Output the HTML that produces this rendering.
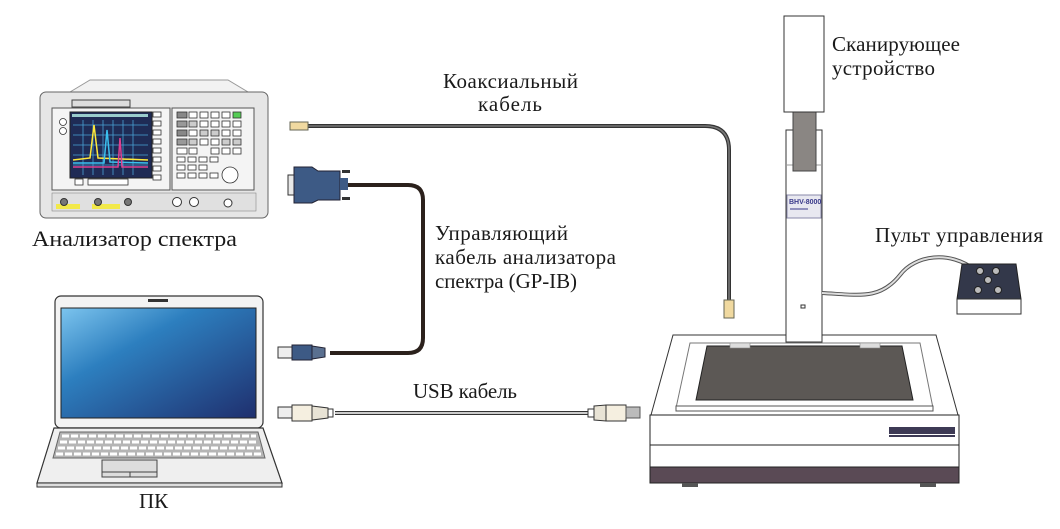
<!DOCTYPE html>
<html><head><meta charset="utf-8"><style>
html,body{margin:0;padding:0;background:#fff;}
svg text{font-family:"Liberation Serif",serif;font-size:21px;fill:#1a1a1a;}
</style></head><body>
<svg width="1060" height="524" viewBox="0 0 1060 524" xmlns="http://www.w3.org/2000/svg">
<defs>
<linearGradient id="scr" x1="0" y1="0" x2="1" y2="1">
<stop offset="0" stop-color="#7cc4ee"/><stop offset="0.35" stop-color="#2d7fbf"/><stop offset="1" stop-color="#1f2f6e"/>
</linearGradient>
</defs>

<!-- Spectrum analyzer -->
<path d="M70,92 L90,80 L228,80 L248,92 Z" fill="#f2f2f2" stroke="#999"/>
<rect x="40" y="92" width="228" height="126" rx="6" fill="#e6e6e6" stroke="#666"/>
<rect x="72" y="100" width="58" height="7" fill="#ddd" stroke="#444"/>
<rect x="52" y="108" width="118" height="82" fill="#f4f4f4" stroke="#555"/>
<rect x="172" y="108" width="82" height="82" fill="#f4f4f4" stroke="#555"/>
<rect x="70" y="112" width="82" height="66" fill="#1f2b55" stroke="#222"/>
<rect x="72" y="114" width="76" height="3" fill="#9cc"/>
<g stroke="#4aa3d6" stroke-width="0.8">
<line x1="73" y1="125" x2="148" y2="125"/><line x1="73" y1="135" x2="148" y2="135"/><line x1="73" y1="145" x2="148" y2="145"/><line x1="73" y1="155" x2="148" y2="155"/><line x1="73" y1="165" x2="148" y2="165"/>
<line x1="83" y1="120" x2="83" y2="175"/><line x1="93" y1="120" x2="93" y2="175"/><line x1="103" y1="120" x2="103" y2="175"/><line x1="113" y1="120" x2="113" y2="175"/><line x1="123" y1="120" x2="123" y2="175"/><line x1="133" y1="120" x2="133" y2="175"/>
</g>
<path d="M73,160 L90,158 L94,125 L98,158 L148,160" stroke="#ffe93b" fill="none" stroke-width="1.5"/>
<path d="M73,163 L104,163 L107,130 L110,162 L148,163" stroke="#3bc0ee" fill="none" stroke-width="1.5"/>
<path d="M73,167 L118,167 L120,138 L122,167 L148,167" stroke="#e04090" fill="none" stroke-width="1.5"/>
<g fill="#fff" stroke="#333" stroke-width="0.8">
<rect x="153" y="112" width="8" height="5"/><rect x="153" y="121" width="8" height="5"/><rect x="153" y="130" width="8" height="5"/><rect x="153" y="139" width="8" height="5"/><rect x="153" y="148" width="8" height="5"/><rect x="153" y="157" width="8" height="5"/><rect x="153" y="166" width="8" height="5"/><rect x="153" y="175" width="8" height="5"/>
<rect x="75" y="179" width="8" height="6"/><rect x="88" y="179" width="40" height="6"/>
<circle cx="63" cy="122" r="3.5"/><circle cx="63" cy="131" r="3.5"/>
</g>
<g stroke="#333" stroke-width="0.8">
<rect x="177" y="112" width="10" height="6" fill="#888"/><rect x="189" y="112" width="8" height="6" fill="#fff"/><rect x="200" y="112" width="8" height="6" fill="#fff"/><rect x="211" y="112" width="8" height="6" fill="#fff"/><rect x="222" y="112" width="8" height="6" fill="#fff"/><rect x="233" y="112" width="8" height="6" fill="#5c5"/>
<rect x="177" y="121" width="10" height="6" fill="#999"/><rect x="189" y="121" width="8" height="6" fill="#ccc"/><rect x="200" y="121" width="8" height="6" fill="#fff"/><rect x="211" y="121" width="8" height="6" fill="#fff"/><rect x="222" y="121" width="8" height="6" fill="#fff"/><rect x="233" y="121" width="8" height="6" fill="#fff"/>
<rect x="177" y="130" width="10" height="6" fill="#888"/><rect x="189" y="130" width="8" height="6" fill="#fff"/><rect x="200" y="130" width="8" height="6" fill="#ccc"/><rect x="211" y="130" width="8" height="6" fill="#ccc"/><rect x="222" y="130" width="8" height="6" fill="#fff"/><rect x="233" y="130" width="8" height="6" fill="#fff"/>
<rect x="177" y="139" width="10" height="6" fill="#999"/><rect x="189" y="139" width="8" height="6" fill="#ccc"/><rect x="200" y="139" width="8" height="6" fill="#fff"/><rect x="211" y="139" width="8" height="6" fill="#fff"/><rect x="222" y="139" width="8" height="6" fill="#ccc"/><rect x="233" y="139" width="8" height="6" fill="#ccc"/>
<g fill="#fff"><rect x="177" y="148" width="10" height="6"/><rect x="189" y="148" width="8" height="6"/><rect x="211" y="148" width="8" height="6"/><rect x="222" y="148" width="8" height="6"/><rect x="233" y="148" width="8" height="6"/>
<rect x="177" y="157" width="8" height="5"/><rect x="188" y="157" width="8" height="5"/><rect x="199" y="157" width="8" height="5"/><rect x="210" y="157" width="8" height="5"/>
<rect x="177" y="165" width="8" height="5"/><rect x="188" y="165" width="8" height="5"/><rect x="199" y="165" width="8" height="5"/>
<rect x="177" y="173" width="8" height="5"/><rect x="188" y="173" width="8" height="5"/><rect x="199" y="173" width="8" height="5"/><rect x="210" y="173" width="8" height="5"/>
<circle cx="230" cy="175" r="8"/></g>
</g>
<rect x="52" y="193" width="204" height="18" fill="#e0e0e0" stroke="#888" stroke-width="0.6"/>
<rect x="56" y="204" width="24" height="5" fill="#f2e94a"/><rect x="92" y="204" width="28" height="5" fill="#f2e94a"/>
<g fill="#777" stroke="#333"><circle cx="64" cy="202" r="3.5"/><circle cx="98" cy="202" r="3.5"/><circle cx="128" cy="202" r="3.5"/></g>
<g fill="#fff" stroke="#333"><circle cx="177" cy="202" r="4.5"/><circle cx="194" cy="202" r="4.5"/><circle cx="228" cy="203" r="4"/></g>
<text x="32" y="246" textLength="205" lengthAdjust="spacingAndGlyphs" style="font-size:22px">Анализатор спектра</text>

<!-- Coax cable -->
<path d="M308,126 L705,126 Q729,126 729,150 L729,302" fill="none" stroke="#333" stroke-width="4"/>
<path d="M308,126 L705,126 Q729,126 729,150 L729,302" fill="none" stroke="#777" stroke-width="1.6"/>
<rect x="290" y="122" width="18" height="8" fill="#f0d9a0" stroke="#665"/>
<rect x="724" y="300" width="10" height="18" fill="#f0d9a0" stroke="#665"/>
<text x="443" y="88" textLength="135" lengthAdjust="spacing">Коаксиальный</text>
<text x="478" y="111" textLength="64" lengthAdjust="spacing">кабель</text>

<!-- GP-IB cable -->
<path d="M345,185 L408,185 Q423,185 423,200 L423,338 Q423,353 408,353 L330,353" fill="none" stroke="#2b211c" stroke-width="4"/>
<rect x="288" y="175" width="6" height="20" fill="#e8e8e8" stroke="#333"/>
<path d="M294,167 L312,167 L318,171 L340,171 L340,200 L318,200 L312,203 L294,203 Z" fill="#3d5a85" stroke="#223"/>
<rect x="340" y="178" width="8" height="12" fill="#3d5a85"/>
<rect x="342" y="170" width="8" height="3" fill="#333"/><rect x="342" y="197" width="8" height="3" fill="#333"/>
<rect x="278" y="347" width="14" height="11" fill="#eee" stroke="#333"/>
<rect x="292" y="345" width="20" height="15" fill="#3d5a85" stroke="#223"/>
<path d="M312,346 L325,348 L325,357 L312,359 Z" fill="#5a7090" stroke="#223"/>
<text x="435" y="240" textLength="133" lengthAdjust="spacing">Управляющий</text>
<text x="435" y="264" textLength="181" lengthAdjust="spacing">кабель анализатора</text>
<text x="435" y="288" textLength="142" lengthAdjust="spacing">спектра (GP-IB)</text>

<!-- USB cable -->
<line x1="335" y1="413" x2="590" y2="413" stroke="#333" stroke-width="4"/>
<line x1="335" y1="413" x2="590" y2="413" stroke="#fff" stroke-width="1.4"/>
<rect x="278" y="407" width="14" height="11" fill="#eee" stroke="#333"/>
<rect x="292" y="405" width="20" height="16" fill="#f5efe0" stroke="#333"/>
<path d="M312,406 L328,408 L328,418 L312,420 Z" fill="#e8e3d5" stroke="#333"/>
<rect x="328" y="409" width="5" height="8" fill="#fff" stroke="#333"/>
<rect x="588" y="409" width="6" height="8" fill="#fff" stroke="#333"/>
<path d="M594,406 L606,405 L606,421 L594,420 Z" fill="#e8e3d5" stroke="#333"/>
<rect x="606" y="405" width="20" height="16" fill="#f5efe0" stroke="#333"/>
<rect x="626" y="407" width="14" height="11" fill="#bbb" stroke="#555"/>
<text x="413" y="398" textLength="104" lengthAdjust="spacing">USB кабель</text>

<!-- Laptop -->
<rect x="55" y="296" width="208" height="132" rx="6" fill="#f3f3f3" stroke="#333" stroke-width="1.2"/>
<rect x="148" y="299" width="20" height="3" fill="#333"/>
<rect x="61" y="308" width="195" height="110" fill="url(#scr)" stroke="#222"/>
<path d="M54,428 L263,428 L282,483 L37,483 Z" fill="#efefef" stroke="#333" stroke-width="1.2"/>
<rect x="37" y="483" width="245" height="4" fill="#ddd" stroke="#333"/>
<path d="M60,432 L258,432 L265,458 L53,458 Z" fill="#b5b5b5" stroke="#666"/>
<g stroke="#fff" stroke-width="3" stroke-dasharray="7 2">
<line x1="62" y1="436" x2="256" y2="436"/><line x1="60" y1="442" x2="258" y2="442"/><line x1="58" y1="448" x2="260" y2="448"/><line x1="56" y1="454" x2="262" y2="454"/>
</g>
<rect x="102" y="460" width="55" height="17" fill="#ddd" stroke="#444"/>
<line x1="102" y1="472" x2="157" y2="472" stroke="#444"/><line x1="130" y1="472" x2="130" y2="477" stroke="#444"/>
<text x="139" y="508">ПК</text>

<!-- Scanner base -->
<path d="M673,335 L936,335 L958,415 L651,415 Z" fill="#fff" stroke="#333"/>
<path d="M690,343 L920,343 L933,408 L676,408 Z" fill="#fff" stroke="#777"/>
<rect x="676" y="406" width="257" height="5" fill="#fff" stroke="#555"/>
<path d="M707,346 L902,346 L913,400 L696,400 Z" fill="#5c5855" stroke="#222"/>
<g fill="#ddd" stroke="#888" stroke-width="0.6"><rect x="730" y="343" width="20" height="5"/><rect x="860" y="343" width="20" height="5"/></g>
<rect x="650" y="415" width="309" height="30" fill="#fff" stroke="#222"/>
<rect x="650" y="445" width="309" height="22" fill="#fff" stroke="#222"/>
<rect x="650" y="467" width="309" height="16" fill="#5a4a55" stroke="#222"/>
<rect x="889" y="427" width="66" height="7" fill="#3d3a55"/>
<rect x="889" y="435" width="66" height="2" fill="#3d3a55"/>
<rect x="682" y="483" width="16" height="4" fill="#555"/><rect x="920" y="483" width="16" height="4" fill="#555"/>

<!-- Column -->
<rect x="786" y="130" width="36" height="212" fill="#fff" stroke="#333"/>
<line x1="786" y1="165" x2="822" y2="165" stroke="#999"/>
<rect x="793" y="112" width="23" height="59" fill="#8a8683" stroke="#444"/>
<rect x="784" y="16" width="40" height="96" fill="#fff" stroke="#333"/>
<rect x="787" y="195" width="34" height="23" fill="#e8e8f0" stroke="#8888aa"/>
<text x="789" y="204" style="font-size:7px;font-family:'Liberation Sans',sans-serif;font-weight:bold;fill:#3a3a8a">BHV-8000</text>
<line x1="790" y1="209" x2="808" y2="209" stroke="#3a3a8a"/>
<rect x="801" y="305" width="4" height="3" fill="#fff" stroke="#333"/>
<text x="832" y="51" textLength="128" lengthAdjust="spacing">Сканирующее</text>
<text x="832" y="75" textLength="103" lengthAdjust="spacing">устройство</text>

<!-- Control pendant -->
<path d="M822,293 C860,295 880,300 900,275 C915,255 950,250 975,270" fill="none" stroke="#555" stroke-width="4"/>
<path d="M822,293 C860,295 880,300 900,275 C915,255 950,250 975,270" fill="none" stroke="#ddd" stroke-width="2"/>
<path d="M962,264 L1016,264 L1021,299 L957,299 Z" fill="#33384a" stroke="#222"/>
<rect x="957" y="299" width="64" height="15" fill="#fff" stroke="#333"/>
<g fill="#bbb" stroke="#222"><circle cx="980" cy="271" r="3.5"/><circle cx="996" cy="271" r="3.5"/><circle cx="988" cy="280" r="3.5"/><circle cx="978" cy="290" r="3.5"/><circle cx="998" cy="290" r="3.5"/></g>
<text x="875" y="242" textLength="168" lengthAdjust="spacing">Пульт управления</text>
</svg>
</body></html>
